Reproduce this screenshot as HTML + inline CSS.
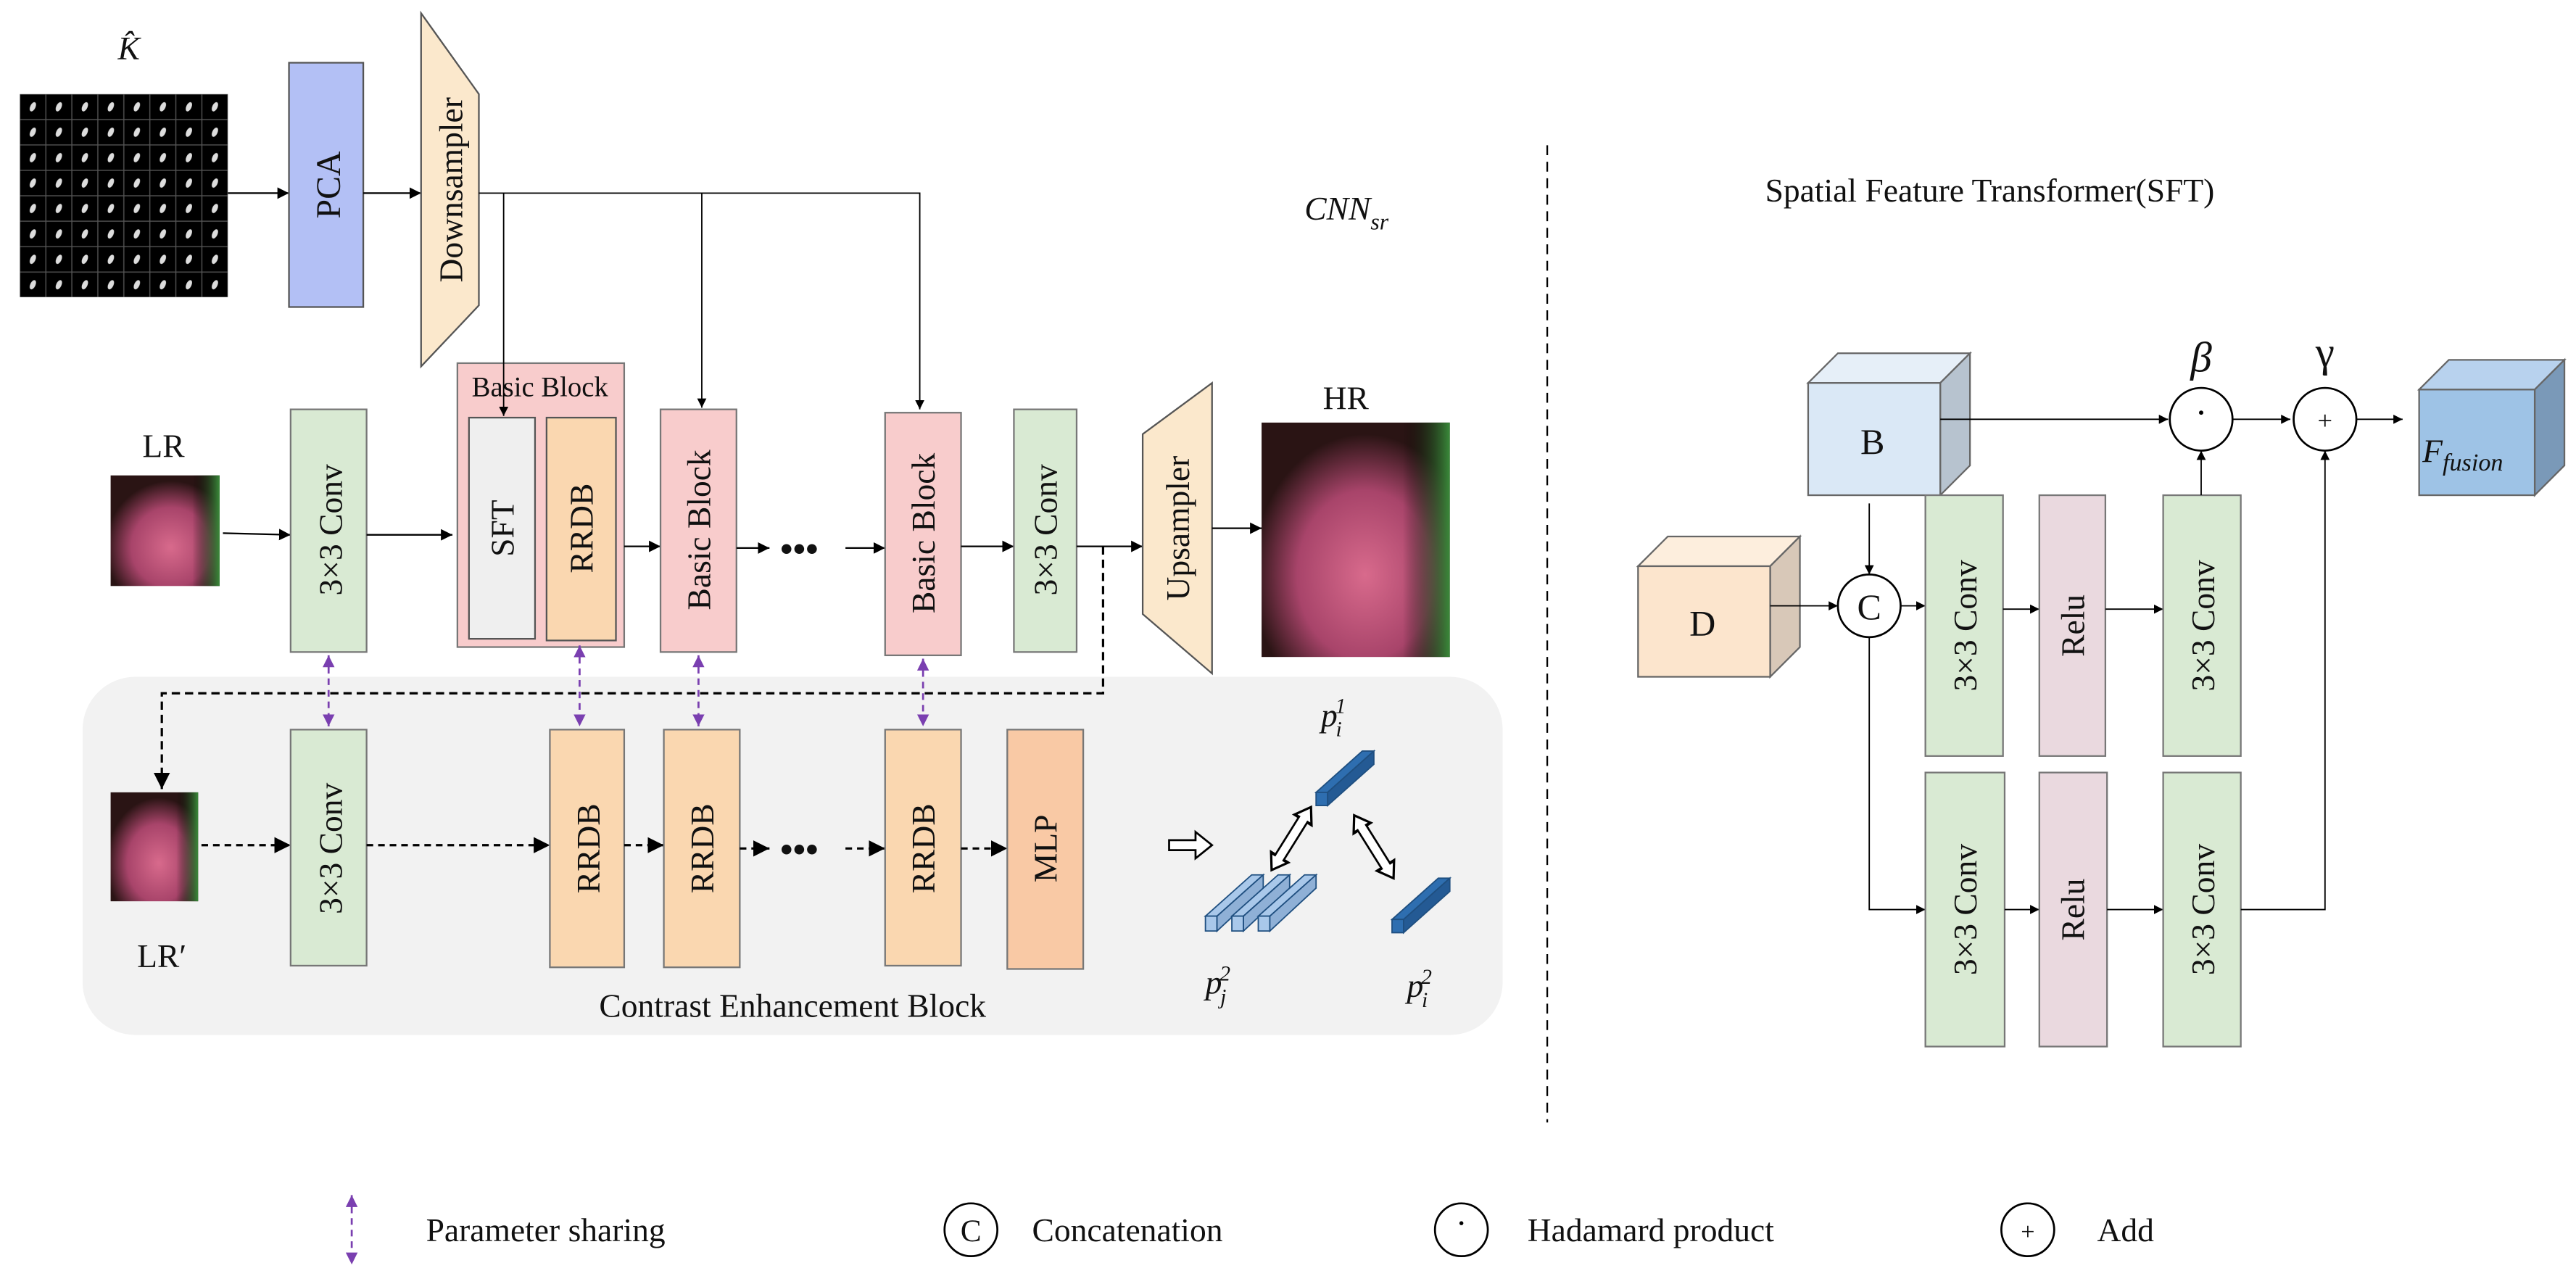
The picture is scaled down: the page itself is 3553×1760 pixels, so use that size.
<!DOCTYPE html>
<html><head><meta charset="utf-8"><style>
html,body{margin:0;padding:0;background:#fff;}
svg{display:block;}
text{font-family:"Liberation Serif",serif;fill:#111;}
</style></head><body>
<svg width="3553" height="1760" viewBox="0 0 1560 773" preserveAspectRatio="none" xmlns="http://www.w3.org/2000/svg">
<defs>
<marker id="a" viewBox="0 0 10 10" refX="10" refY="5" markerWidth="7" markerHeight="7" orient="auto-start-reverse"><path d="M0,0L10,5L0,10z" fill="#000"/></marker>
<marker id="p" viewBox="0 0 10 10" refX="10" refY="5" markerWidth="6" markerHeight="6" orient="auto-start-reverse"><path d="M0,0L10,5L0,10z" fill="#7a3fb0"/></marker>
<pattern id="kg" x="12" y="57" width="15.75" height="15.4" patternUnits="userSpaceOnUse">
<rect width="15.75" height="15.4" fill="#000" stroke="#555" stroke-width="0.6"/>
<ellipse cx="7.9" cy="7.7" rx="1.6" ry="3" fill="#ddd" transform="rotate(25 7.9 7.7)"/>
</pattern>
<radialGradient id="face" cx="0.55" cy="0.65" r="0.6"><stop offset="0" stop-color="#d86a8c"/><stop offset="0.6" stop-color="#a8446a"/><stop offset="1" stop-color="#2a1414"/></radialGradient>
<linearGradient id="grn" x1="0" x2="1"><stop offset="0.75" stop-color="#000" stop-opacity="0"/><stop offset="1" stop-color="#3a8a3a"/></linearGradient>
<path id="dar" d="M-15,0 L-9,-6 L-9,-3 L9,-3 L9,-6 L15,0 L9,6 L9,3 L-9,3 L-9,6 Z" fill="#fff" stroke="#000" stroke-width="1.2"/>
</defs>

<!-- K hat -->
<text x="78" y="36" font-size="20" font-style="italic" text-anchor="middle">K̂</text>
<rect x="12" y="57" width="126" height="123" fill="url(#kg)"/>
<line x1="138" y1="117" x2="175" y2="117" stroke="#000" marker-end="url(#a)"/>
<rect x="175" y="38" width="45" height="148" fill="#b3c0f5" stroke="#555"/>
<text transform="translate(206,112) rotate(-90)" font-size="21" text-anchor="middle">PCA</text>
<line x1="220" y1="117" x2="255" y2="117" stroke="#000" marker-end="url(#a)"/>
<polygon points="255,8 290,57 290,185 255,222" fill="#fbe8cc" stroke="#555"/>
<text transform="translate(280,115) rotate(-90)" font-size="20" text-anchor="middle">Downsampler</text>
<text x="790" y="133" font-size="20" font-style="italic" fill="#444">CNN<tspan font-size="14" dy="6">sr</tspan></text>

<!-- LR -->
<text x="99" y="277" font-size="20" text-anchor="middle">LR</text>
<rect x="67" y="288" width="66" height="67" fill="url(#face)"/>
<rect x="67" y="288" width="66" height="67" fill="url(#grn)"/>
<line x1="135" y1="323" x2="176" y2="324" stroke="#000" marker-end="url(#a)"/>
<rect x="176" y="248" width="46" height="147" fill="#d9ead3" stroke="#777"/>
<text transform="translate(207,321) rotate(-90)" font-size="20" text-anchor="middle" fill="#1a3a1a">3×3 Conv</text>
<line x1="222" y1="324" x2="274" y2="324" stroke="#000" marker-end="url(#a)"/>

<!-- Basic Block expanded -->
<rect x="277" y="220" width="101" height="172" fill="#f8cccc" stroke="#777"/>
<text x="327" y="240" font-size="17" text-anchor="middle">Basic Block</text>
<rect x="284" y="253" width="40" height="134" fill="#efefef" stroke="#555"/>
<text transform="translate(311,320) rotate(-90)" font-size="20" text-anchor="middle">SFT</text>
<rect x="331" y="253" width="42" height="135" fill="#fad7b0" stroke="#555"/>
<text transform="translate(359,320) rotate(-90)" font-size="20" text-anchor="middle">RRDB</text>
<line x1="378" y1="331" x2="400" y2="331" stroke="#000" marker-end="url(#a)"/>
<rect x="400" y="248" width="46" height="147" fill="#f8cccc" stroke="#777"/>
<text transform="translate(430,321) rotate(-90)" font-size="20" text-anchor="middle">Basic Block</text>
<line x1="446" y1="332" x2="466" y2="332" stroke="#000" marker-end="url(#a)"/>
<text x="484" y="340" font-size="22" text-anchor="middle" font-weight="bold">•••</text>
<line x1="512" y1="332" x2="536" y2="332" stroke="#000" marker-end="url(#a)"/>
<rect x="536" y="250" width="46" height="147" fill="#f8cccc" stroke="#777"/>
<text transform="translate(566,323) rotate(-90)" font-size="20" text-anchor="middle">Basic Block</text>
<line x1="582" y1="331" x2="614" y2="331" stroke="#000" marker-end="url(#a)"/>
<rect x="614" y="248" width="38" height="147" fill="#d9ead3" stroke="#777"/>
<text transform="translate(640,321) rotate(-90)" font-size="20" text-anchor="middle" fill="#1a3a1a">3×3 Conv</text>
<line x1="652" y1="331" x2="692" y2="331" stroke="#000" marker-end="url(#a)"/>
<polygon points="692,263 734,232 734,408 692,372" fill="#fbe8cc" stroke="#555"/>
<text transform="translate(720,320) rotate(-90)" font-size="20" text-anchor="middle">Upsampler</text>
<line x1="734" y1="320" x2="764" y2="320" stroke="#000" marker-end="url(#a)"/>
<text x="815" y="248" font-size="20" text-anchor="middle">HR</text>
<rect x="764" y="256" width="114" height="142" fill="url(#face)"/>
<rect x="764" y="256" width="114" height="142" fill="url(#grn)"/>

<!-- downsampler feed lines (drawn on top) -->
<polyline points="290,117 557,117 557,248" fill="none" stroke="#000" stroke-width="0.8" marker-end="url(#a)"/>
<line x1="305" y1="117" x2="305" y2="252" stroke="#000" stroke-width="0.8" marker-end="url(#a)"/>
<line x1="425" y1="117" x2="425" y2="247" stroke="#000" stroke-width="0.8" marker-end="url(#a)"/>

<!-- CEB panel -->
<rect x="50" y="410" width="860" height="217" rx="32" fill="#f2f2f2"/>
<polyline points="668,331 668,420 98,420 98,478" fill="none" stroke="#000" stroke-width="1.4" stroke-dasharray="5,3" marker-end="url(#a)"/>
<!-- purple arrows -->
<line x1="199" y1="397" x2="199" y2="440" stroke="#7a3fb0" stroke-width="1.2" stroke-dasharray="4,3" marker-start="url(#p)" marker-end="url(#p)"/>
<line x1="351" y1="391" x2="351" y2="440" stroke="#7a3fb0" stroke-width="1.2" stroke-dasharray="4,3" marker-start="url(#p)" marker-end="url(#p)"/>
<line x1="423" y1="397" x2="423" y2="440" stroke="#7a3fb0" stroke-width="1.2" stroke-dasharray="4,3" marker-start="url(#p)" marker-end="url(#p)"/>
<line x1="559" y1="399" x2="559" y2="440" stroke="#7a3fb0" stroke-width="1.2" stroke-dasharray="4,3" marker-start="url(#p)" marker-end="url(#p)"/>

<rect x="67" y="480" width="53" height="66" fill="url(#face)"/>
<rect x="67" y="480" width="53" height="66" fill="url(#grn)"/>
<text x="98" y="586" font-size="20" text-anchor="middle">LR′</text>
<line x1="122" y1="512" x2="176" y2="512" stroke="#000" stroke-width="1.4" stroke-dasharray="4,3" marker-end="url(#a)"/>
<rect x="176" y="442" width="46" height="143" fill="#d9ead3" stroke="#777"/>
<text transform="translate(207,514) rotate(-90)" font-size="20" text-anchor="middle" fill="#1a3a1a">3×3 Conv</text>
<line x1="222" y1="512" x2="333" y2="512" stroke="#000" stroke-width="1.4" stroke-dasharray="4,3" marker-end="url(#a)"/>
<rect x="333" y="442" width="45" height="144" fill="#fad7b0" stroke="#777"/>
<text transform="translate(363,514) rotate(-90)" font-size="20" text-anchor="middle">RRDB</text>
<line x1="378" y1="512" x2="402" y2="512" stroke="#000" stroke-width="1.4" stroke-dasharray="4,3" marker-end="url(#a)"/>
<rect x="402" y="442" width="46" height="144" fill="#fad7b0" stroke="#777"/>
<text transform="translate(432,514) rotate(-90)" font-size="20" text-anchor="middle">RRDB</text>
<line x1="448" y1="514" x2="466" y2="514" stroke="#000" stroke-width="1.4" stroke-dasharray="4,3" marker-end="url(#a)"/>
<text x="484" y="522" font-size="22" text-anchor="middle" font-weight="bold">•••</text>
<line x1="512" y1="514" x2="536" y2="514" stroke="#000" stroke-width="1.4" stroke-dasharray="4,3" marker-end="url(#a)"/>
<rect x="536" y="442" width="46" height="143" fill="#fad7b0" stroke="#777"/>
<text transform="translate(566,514) rotate(-90)" font-size="20" text-anchor="middle">RRDB</text>
<line x1="582" y1="514" x2="610" y2="514" stroke="#000" stroke-width="1.4" stroke-dasharray="4,3" marker-end="url(#a)"/>
<rect x="610" y="442" width="46" height="145" fill="#f9c9a5" stroke="#777"/>
<text transform="translate(640,514) rotate(-90)" font-size="20" text-anchor="middle">MLP</text>
<path d="M708,509 L724,509 L724,504 L734,512 L724,520 L724,515 L708,515 Z" fill="#fff" stroke="#000" stroke-width="1.2"/>
<!-- bars -->
<g stroke="#1f4f80" stroke-width="0.8">
<polygon points="797,480 825,455 832,455 804,480" fill="#2e6eb0"/><polygon points="797,480 804,480 804,488 797,488" fill="#2e6eb0"/><polygon points="804,480 832,455 832,463 804,488" fill="#245a94"/>
<polygon points="843,557 871,532 878,532 850,557" fill="#2e6eb0"/><polygon points="843,557 850,557 850,565 843,565" fill="#2e6eb0"/><polygon points="850,557 878,532 878,540 850,565" fill="#245a94"/>
<g fill="#a9c8ea"><polygon points="730,555 758,530 765,530 737,555"/><polygon points="730,555 737,555 737,564 730,564"/><polygon points="737,555 765,530 765,538 737,564" fill="#8fb0d6"/>
<polygon points="746,555 774,530 781,530 753,555"/><polygon points="746,555 753,555 753,564 746,564"/><polygon points="753,555 781,530 781,538 753,564" fill="#8fb0d6"/>
<polygon points="762,555 790,530 797,530 769,555"/><polygon points="762,555 769,555 769,564 762,564"/><polygon points="769,555 797,530 797,538 769,564" fill="#8fb0d6"/></g>
</g>
<use href="#dar" transform="translate(782,508) rotate(-58) scale(1.5,1)"/>
<use href="#dar" transform="translate(832,513) rotate(58) scale(1.5,1)"/>
<text x="800" y="440" font-size="20" font-style="italic">p<tspan font-size="13" dx="-1" dy="6">i</tspan><tspan font-size="13" dx="-4" dy="-14">1</tspan></text>
<text x="730" y="602" font-size="20" font-style="italic">p<tspan font-size="13" dx="-1" dy="6">j</tspan><tspan font-size="13" dx="-4" dy="-14">2</tspan></text>
<text x="852" y="604" font-size="20" font-style="italic">p<tspan font-size="13" dx="-1" dy="6">i</tspan><tspan font-size="13" dx="-4" dy="-14">2</tspan></text>
<text x="480" y="616" font-size="20" text-anchor="middle">Contrast Enhancement Block</text>

<!-- divider -->
<line x1="937" y1="88" x2="937" y2="680" stroke="#000" stroke-dasharray="6,4"/>

<!-- SFT -->
<text x="1205" y="122" font-size="20" text-anchor="middle">Spatial Feature Transformer(SFT)</text>
<polygon points="1095,232 1113,214 1193,214 1175,232" fill="#e6eff8" stroke="#666"/>
<polygon points="1175,232 1193,214 1193,282 1175,300" fill="#b7c3cf" stroke="#666"/>
<rect x="1095" y="232" width="80" height="68" fill="#dae8f6" stroke="#666"/>
<text x="1134" y="275" font-size="22" text-anchor="middle">B</text>
<polygon points="992,343 1010,325 1090,325 1072,343" fill="#fdeedd" stroke="#666"/>
<polygon points="1072,343 1090,325 1090,392 1072,410" fill="#d8c8b8" stroke="#666"/>
<rect x="992" y="343" width="80" height="67" fill="#fce5cd" stroke="#666"/>
<text x="1031" y="385" font-size="22" text-anchor="middle">D</text>
<polygon points="1465,236 1483,218 1553,218 1535,236" fill="#b8d2ee" stroke="#666"/>
<polygon points="1535,236 1553,218 1553,282 1535,300" fill="#7a99b8" stroke="#666"/>
<rect x="1465" y="236" width="70" height="64" fill="#9ec3e6" stroke="#666"/>
<text x="1467" y="280" font-size="20" font-style="italic">F<tspan font-size="15" dy="5">fusion</tspan></text>

<line x1="1175" y1="254" x2="1313" y2="254" stroke="#000" stroke-width="0.8" marker-end="url(#a)"/>
<circle cx="1333" cy="254" r="19" fill="#fff" stroke="#000" stroke-width="1.2"/>
<circle cx="1333" cy="250" r="1.3" fill="#000"/>
<text x="1333" y="225" font-size="26" font-style="italic" text-anchor="middle">β</text>
<line x1="1352" y1="254" x2="1387" y2="254" stroke="#000" stroke-width="0.8" marker-end="url(#a)"/>
<circle cx="1408" cy="254" r="19" fill="#fff" stroke="#000" stroke-width="1.2"/>
<text x="1408" y="260" font-size="16" text-anchor="middle">+</text>
<text x="1408" y="222" font-size="26" text-anchor="middle">γ</text>
<line x1="1427" y1="254" x2="1455" y2="254" stroke="#000" stroke-width="0.8" marker-end="url(#a)"/>

<line x1="1132" y1="305" x2="1132" y2="348" stroke="#000" stroke-width="0.8" marker-end="url(#a)"/>
<line x1="1072" y1="367" x2="1113" y2="367" stroke="#000" stroke-width="0.8" marker-end="url(#a)"/>
<circle cx="1132" cy="367" r="19" fill="#fff" stroke="#000" stroke-width="1.2"/>
<text x="1132" y="375" font-size="22" text-anchor="middle">C</text>
<line x1="1151" y1="367" x2="1166" y2="367" stroke="#000" stroke-width="0.8" marker-end="url(#a)"/>
<polyline points="1132,386 1132,551 1166,551" fill="none" stroke="#000" stroke-width="0.8" marker-end="url(#a)"/>

<rect x="1166" y="300" width="47" height="158" fill="#d9ead3" stroke="#777"/>
<text transform="translate(1197,379) rotate(-90)" font-size="20" text-anchor="middle" fill="#1a3a1a">3×3 Conv</text>
<line x1="1213" y1="369" x2="1235" y2="369" stroke="#000" stroke-width="0.8" marker-end="url(#a)"/>
<rect x="1235" y="300" width="40" height="158" fill="#ead9df" stroke="#777"/>
<text transform="translate(1262,379) rotate(-90)" font-size="20" text-anchor="middle">Relu</text>
<line x1="1275" y1="369" x2="1310" y2="369" stroke="#000" stroke-width="0.8" marker-end="url(#a)"/>
<rect x="1310" y="300" width="47" height="158" fill="#d9ead3" stroke="#777"/>
<text transform="translate(1341,379) rotate(-90)" font-size="20" text-anchor="middle" fill="#1a3a1a">3×3 Conv</text>
<line x1="1333" y1="300" x2="1333" y2="273" stroke="#000" stroke-width="0.8" marker-end="url(#a)"/>

<rect x="1166" y="468" width="48" height="166" fill="#d9ead3" stroke="#777"/>
<text transform="translate(1197,551) rotate(-90)" font-size="20" text-anchor="middle" fill="#1a3a1a">3×3 Conv</text>
<line x1="1214" y1="551" x2="1235" y2="551" stroke="#000" stroke-width="0.8" marker-end="url(#a)"/>
<rect x="1235" y="468" width="41" height="166" fill="#ead9df" stroke="#777"/>
<text transform="translate(1262,551) rotate(-90)" font-size="20" text-anchor="middle">Relu</text>
<line x1="1276" y1="551" x2="1310" y2="551" stroke="#000" stroke-width="0.8" marker-end="url(#a)"/>
<rect x="1310" y="468" width="47" height="166" fill="#d9ead3" stroke="#777"/>
<text transform="translate(1341,551) rotate(-90)" font-size="20" text-anchor="middle" fill="#1a3a1a">3×3 Conv</text>
<polyline points="1357,551 1408,551 1408,273" fill="none" stroke="#000" stroke-width="0.8" marker-end="url(#a)"/>

<!-- legend -->
<line x1="213" y1="724" x2="213" y2="766" stroke="#7a3fb0" stroke-width="1.2" stroke-dasharray="4,3" marker-start="url(#p)" marker-end="url(#p)"/>
<text x="258" y="752" font-size="20">Parameter sharing</text>
<circle cx="588" cy="745" r="16" fill="#fff" stroke="#000" stroke-width="1.2"/>
<text x="588" y="752" font-size="19" text-anchor="middle">C</text>
<text x="625" y="752" font-size="20">Concatenation</text>
<circle cx="885" cy="745" r="16" fill="#fff" stroke="#000" stroke-width="1.2"/>
<circle cx="885" cy="741" r="1.2" fill="#000"/>
<text x="925" y="752" font-size="20">Hadamard product</text>
<circle cx="1228" cy="745" r="16" fill="#fff" stroke="#000" stroke-width="1.2"/>
<text x="1228" y="751" font-size="15" text-anchor="middle">+</text>
<text x="1270" y="752" font-size="20">Add</text>
</svg>
</body></html>
